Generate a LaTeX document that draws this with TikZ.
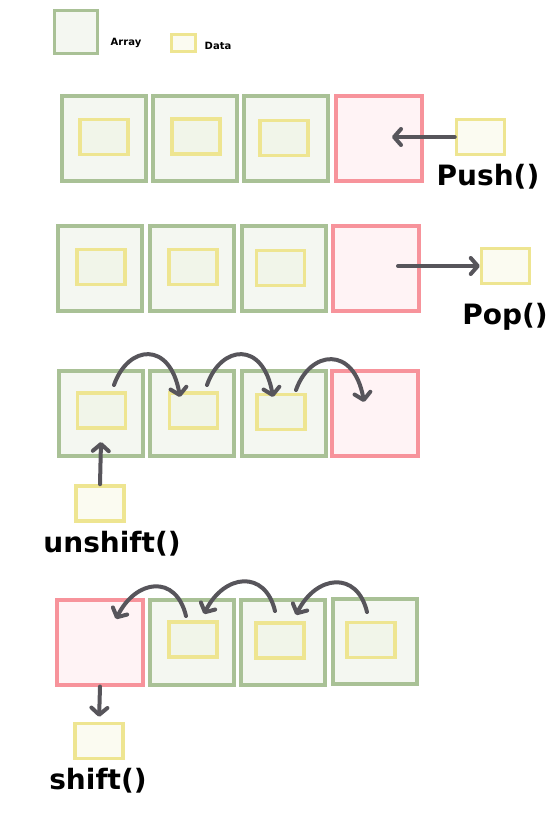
\documentclass[tikz,border=0pt]{standalone}
\usepackage{fontspec}
\setmainfont{DejaVu Sans}
\usetikzlibrary{arrows.meta}
\definecolor{greenline}{HTML}{A9C196}
\definecolor{greenfill}{HTML}{F4F7F1}
\definecolor{redline}{HTML}{F7939B}
\definecolor{redfill}{HTML}{FFF3F5}
\definecolor{dataline}{HTML}{EEE591}
\definecolor{datafill}{HTML}{F1F5E9}
\definecolor{dataoutfill}{HTML}{FBFBF1}
\definecolor{arrowgray}{HTML}{57555B}
\begin{document}
\begin{tikzpicture}
            [x=1pt, y=-1pt,
            greencell/.style={draw=greenline, fill=greenfill, line width=4pt, minimum width=84pt, minimum height=85pt, inner sep=0pt},
            redcell/.style={draw=redline, fill=redfill, line width=4pt, minimum width=86pt, minimum height=85pt, inner sep=0pt},
            datain/.style={draw=dataline, fill=datafill, line width=3.5pt, minimum width=48pt, minimum height=35pt, inner sep=0pt},
            dataout/.style={datain, fill=dataoutfill},
            arrow/.style={draw=arrowgray, line width=4pt, line cap=round, -{Straight Barb[length=7pt,width=16pt,round]}},
            opname/.style={font=\fontsize{28}{30}\selectfont\bfseries},
            legendtext/.style={font=\fontsize{10}{12}\selectfont\bfseries}]

            \useasboundingbox (0,0) rectangle (557,822);

            % legend
            \node[greencell, line width=3pt, minimum width=43pt, minimum height=43pt] (la) at (76,32) {};
            \node[legendtext] (lat) at (126,43) {Array};
            \node[dataout, line width=3pt, minimum width=24pt, minimum height=17pt] (ld) at (183.5,43) {};
            \node[legendtext] (ldt) at (218,46) {Data};

            % Push()
            \node[greencell] (p1) at (103.5,138.5) {};
            \node[greencell] (p2) at (195,138.5) {};
            \node[greencell] (p3) at (286,138.5) {};
            \node[redcell] (p4) at (379,138.5) {};
            \node[datain] (pd1) at (104,137) {};
            \node[datain] (pd2) at (196,136.5) {};
            \node[datain] (pd3) at (284,138) {};
            \node[dataout] (pd) at (480.5,137) {};
            \node[opname] (pt) at (488,177) {Push()};
            \coordinate (pushtip) at (392,137);

            % Pop()
            \node[greencell] (q1) at (100,268.5) {};
            \node[greencell] (q2) at (191.5,268.5) {};
            \node[greencell] (q3) at (283.5,268.5) {};
            \node[redcell] (q4) at (376,268.5) {};
            \node[datain] (qd1) at (101,267) {};
            \node[datain] (qd2) at (193,267) {};
            \node[datain] (qd3) at (280.5,268) {};
            \node[dataout] (qd) at (505.5,266) {};
            \node[opname] (qt) at (505,317) {Pop()};
            \coordinate (poptail) at (398,266);

            % unshift()
            \node[greencell] (u1) at (100.5,413) {};
            \node[greencell] (u2) at (192,413) {};
            \node[greencell] (u3) at (283.5,413) {};
            \node[redcell] (u4) at (375,413) {};
            \node[datain] (ud1) at (101.5,410.5) {};
            \node[datain] (ud2) at (193.5,410.5) {};
            \node[datain] (ud3) at (281,412) {};
            \node[dataout] (ud) at (100,503.5) {};
            \node[opname] (ut) at (112,544) {unshift()};
            \coordinate (unshifttip) at (101,442);
            \coordinate (u1s) at (114,385);
            \coordinate (u1e) at (180,397);
            \coordinate (u2s) at (207,385);
            \coordinate (u2e) at (273,397);
            \coordinate (u3s) at (296,390);
            \coordinate (u3e) at (364,402);

            % shift()
            \node[redcell] (s1) at (100,642) {};
            \node[greencell] (s2) at (192,642) {};
            \node[greencell] (s3) at (283,642) {};
            \node[greencell] (s4) at (374.5,641) {};
            \node[datain] (sd2) at (193,639.5) {};
            \node[datain] (sd3) at (280,640.5) {};
            \node[datain] (sd4) at (371,640) {};
            \node[dataout] (sd) at (99,741) {};
            \node[opname] (st) at (98,781) {shift()};
            \coordinate (s1s) at (186,616);
            \coordinate (s1e) at (116,619);
            \coordinate (s2s) at (275,611);
            \coordinate (s2e) at (204,614);
            \coordinate (s3s) at (367,612);
            \coordinate (s3e) at (296,615);

            \draw[arrow] (pd.west) -- (pushtip);
            \draw[arrow] (poptail) -- (qd.west);
            \draw[arrow] (ud.north) -- (unshifttip);
            \draw[arrow] (u1s) .. controls +(14,-40) and +(-10,-57) .. (u1e);
            \draw[arrow] (u2s) .. controls +(14,-40) and +(-10,-57) .. (u2e);
            \draw[arrow] (u3s) .. controls +(14,-40) and +(-10,-57) .. (u3e);
            \draw[arrow, shorten >=5pt] (s1.south) -- (sd.north);
            \draw[arrow] (s1s) .. controls +(-10,-42) and +(20,-40) .. (s1e);
            \draw[arrow] (s2s) .. controls +(-10,-42) and +(20,-40) .. (s2e);
            \draw[arrow] (s3s) .. controls +(-10,-42) and +(20,-40) .. (s3e);

        \end{tikzpicture}
\end{document}
